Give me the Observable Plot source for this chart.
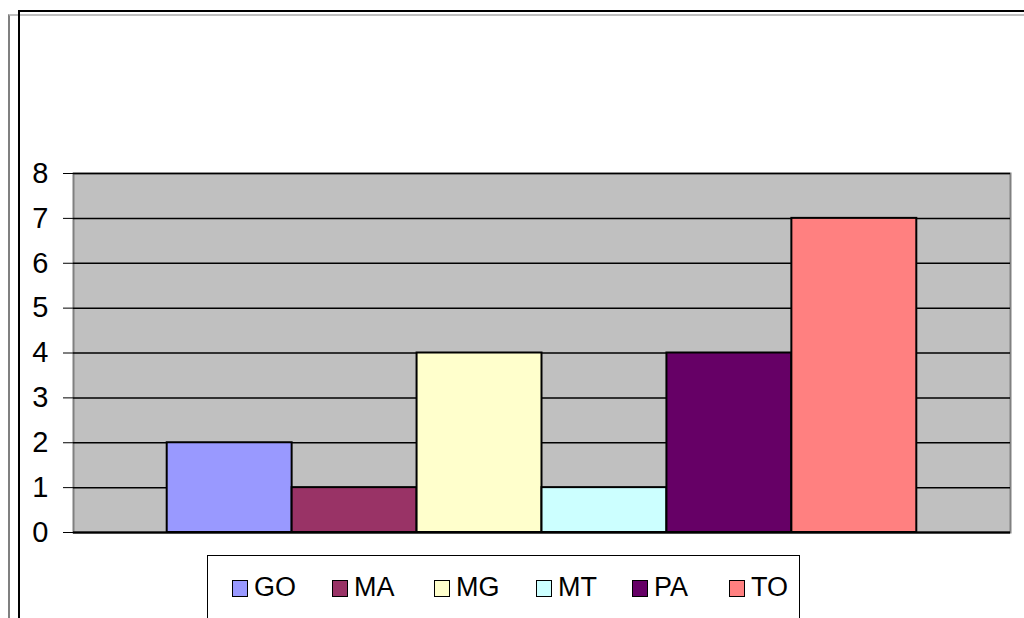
<!DOCTYPE html>
<html>
<head>
<meta charset="utf-8">
<script src="https://cdn.jsdelivr.net/npm/d3@7"></script>
<script src="https://cdn.jsdelivr.net/npm/@observablehq/plot@0.6"></script>
<style>
  html, body { margin: 0; padding: 0; background: #fff; }
  #wrap { position: relative; width: 1024px; height: 618px; overflow: hidden; font-family: Arial, "Liberation Sans", sans-serif; }
  #outer { position: absolute; left: 8px; top: 14px; width: 1100px; height: 700px; border-left: 2px solid #808080; border-top: 2px solid #c0c0c0; }
  #inner { position: absolute; left: 18px; top: 10px; width: 1100px; height: 700px; border-left: 2px solid #000; border-top: 2px solid #000; }
  #chart { position: absolute; left: 0; top: 0; }
  #legend { position: absolute; left: 207px; top: 555px; width: 591px; height: 80px; border: 1px solid #000; background: #fff; }
  .item { position: absolute; top: 14px; display: flex; align-items: center; font-size: 27px; line-height: 34px; color: #000; }
  .sw { width: 14px; height: 15px; border: 1.5px solid #000; margin-right: 6px; margin-top: 3px; box-sizing: content-box; }
  #chart svg text { font-size: 29px; }
</style>
</head>
<body>
<div id="wrap">
  <div id="outer"></div>
  <div id="inner"></div>
  <div id="chart"></div>
  <div id="legend"></div>
</div>
<script>
const categories = ["GO", "MA", "MG", "MT", "PA", "TO"];
const values = [2, 1, 4, 1, 4, 7];
const colors = ["#9999FF", "#993366", "#FFFFCC", "#CCFFFF", "#660066", "#FF8080"];
const yTicks = [0, 1, 2, 3, 4, 5, 6, 7, 8];
const legendOffsets = [24, 124, 226, 328, 424, 521];

const data = categories.map((c, i) => ({cat: c, value: values[i]}));

const chart = Plot.plot({
  width: 1024,
  height: 618,
  marginLeft: 73,
  marginRight: 14,
  marginTop: 173,
  marginBottom: 86,
  style: {background: "transparent", fontFamily: "Arial, 'Liberation Sans', sans-serif", fontSize: "29px", overflow: "visible"},
  x: {domain: categories, paddingInner: 0, paddingOuter: 0.75, round: false, axis: null},
  y: {domain: [0, 8], ticks: yTicks, label: null},
  color: {domain: categories, range: colors},
  marks: [
    Plot.frame({fill: "#C0C0C0", stroke: "#808080", strokeWidth: 2}),
    Plot.gridY(yTicks, {stroke: "#000", strokeOpacity: 1, strokeWidth: 1.5}),
    Plot.axisY({ticks: yTicks, tickSize: 10, tickPadding: 15, fontSize: 29, tickFormat: d => d, stroke: "#000", label: null}),
    Plot.ruleX([0], {y1: 0, y2: 8, stroke: "#000", strokeWidth: 1.5, frameAnchor: "left"}),
    Plot.barY(data, {x: "cat", y: "value", fill: "cat", stroke: "#000", strokeWidth: 2, inset: 0}),
    Plot.ruleY([0], {stroke: "#000", strokeWidth: 2})
  ]
});
document.getElementById("chart").appendChild(chart);

const legend = document.getElementById("legend");
categories.forEach((c, i) => {
  const it = document.createElement("div");
  it.className = "item";
  it.style.left = legendOffsets[i] + "px";
  const sw = document.createElement("div");
  sw.className = "sw";
  sw.style.background = colors[i];
  const t = document.createElement("span");
  t.textContent = c;
  it.appendChild(sw);
  it.appendChild(t);
  legend.appendChild(it);
});
</script>
</body>
</html>
